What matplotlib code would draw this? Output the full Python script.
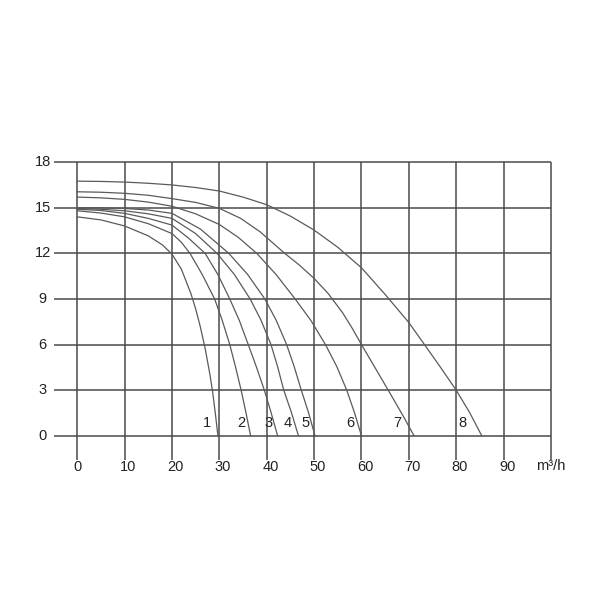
import matplotlib
matplotlib.use("Agg")
import matplotlib.pyplot as plt

plt.rcParams['font.family'] = ['Liberation Sans', 'DejaVu Sans']

# ---- pump curves (flow m3/h, head m) ----
q1 = [0, 5, 10, 15, 18, 20, 22, 24, 25, 26, 27, 28, 28.6, 29.2, 29.7]
h1 = [14.4, 14.2, 13.8, 13.15, 12.55, 11.95, 10.95, 9.35, 8.35, 7.15, 5.75, 4.05, 2.85, 1.35, 0]

q2 = [0, 5, 10, 15, 20, 22, 23.8, 26.4, 29, 30.6, 32.2, 33.4, 34.6, 35.6, 36.6]
h2 = [14.8, 14.65, 14.4, 13.95, 13.3, 12.72, 12, 10.6, 9, 7.6, 6, 4.55, 3, 1.55, 0]

q3 = [0, 5, 10, 15, 20, 23.5, 27, 29.7, 32.2, 34.2, 36.1, 37.8, 39.5, 40.9, 42.3]
h3 = [14.9, 14.82, 14.63, 14.3, 13.86, 13.0, 12, 10.6, 9, 7.6, 6, 4.55, 3, 1.55, 0]

q4 = [0, 5, 10, 15, 20, 25, 29.5, 33.2, 36.5, 38.8, 40.9, 42.3, 43.6, 45.2, 46.7]
h4 = [14.95, 14.9, 14.8, 14.6, 14.3, 13.3, 12, 10.6, 9, 7.6, 6, 4.55, 3, 1.55, 0]

q5 = [0, 5, 10, 15, 20, 26, 32, 36, 39.6, 42, 44.2, 45.8, 47.3, 48.8, 50.2]
h5 = [15.0, 15.0, 14.95, 14.85, 14.63, 13.6, 12, 10.6, 9, 7.6, 6, 4.55, 3, 1.55, 0]

q6 = [0, 5, 10, 15, 20, 25, 30, 34, 37.9, 42, 46, 49.3, 52.4, 54.8, 56.9, 58.5, 60]
h6 = [15.7, 15.65, 15.55, 15.37, 15.1, 14.6, 13.9, 13.05, 12, 10.6, 9, 7.6, 6, 4.55, 3, 1.55, 0]

q7 = [0, 5, 10, 15, 20, 25, 30, 34.5, 38.6, 43.8, 47, 50, 53, 56, 58, 60, 63.3, 66.4, 68.9, 71.1]
h7 = [16.05, 16.02, 15.95, 15.82, 15.6, 15.35, 14.96, 14.3, 13.42, 12, 11.2, 10.35, 9.35, 8.1, 7.1, 6,
      4.25, 2.6, 1.25, 0]

q8 = [0, 5, 10, 15, 20, 25, 30, 35, 40, 45, 50, 55, 60, 65, 70, 73.3, 76.7, 80, 82.8, 85.4]
h8 = [16.75, 16.73, 16.69, 16.61, 16.5, 16.33, 16.1, 15.7, 15.2, 14.45, 13.53, 12.4, 11.05, 9.3, 7.45,
      6, 4.5, 3, 1.55, 0]

curves = [(q1, h1), (q2, h2), (q3, h3), (q4, h4),
          (q5, h5), (q6, h6), (q7, h7), (q8, h8)]
curve_names = ['1', '2', '3', '4', '5', '6', '7', '8']
name_x = [27.4, 34.6, 40.3, 44.5, 48.3, 57.6, 67.5, 81.4]

x_ticks = [0, 10, 20, 30, 40, 50, 60, 70, 80, 90]
x_grid = [0, 10, 20, 30, 40, 50, 60, 70, 80, 90, 100]
y_ticks = [0, 3, 6, 9, 12, 15, 18]
x_unit = 'm³/h'

# ---- plotting ----
fig = plt.figure(figsize=(6, 6), dpi=100)
ax = fig.add_axes([0.0498, 0.1978, 0.9078, 0.5573])
ax.set_xlim(-10, 105)
ax.set_ylim(-3, 19)
ax.axis('off')

grid_col = '#4a4a4a'
for x in x_grid:
    ax.plot([x, x], [-1.6, 18], color=grid_col, lw=1.1, solid_capstyle='butt')
for y in y_ticks:
    ax.plot([-4.9, 100], [y, y], color=grid_col, lw=1.1, solid_capstyle='butt')

for q, h in curves:
    ax.plot(q, h, color='#5a5a5a', lw=0.9)

for name, x in zip(curve_names, name_x):
    ax.text(x, 0.84, name, ha='center', va='center', fontsize=10.5, color='#222222')

for y in y_ticks:
    ax.text(-7.3, y, str(y), ha='center', va='center', fontsize=10.5, color='#222222')
for x in x_ticks:
    off = 0 if x == 0 else 0.8
    ax.text(x + off, -2.09, str(x), ha='center', va='center', fontsize=10.5, color='#222222')
ax.text(100, -2.0, x_unit, ha='center', va='center', fontsize=10.5, color='#222222')

fig.savefig('out.png', dpi=100)
